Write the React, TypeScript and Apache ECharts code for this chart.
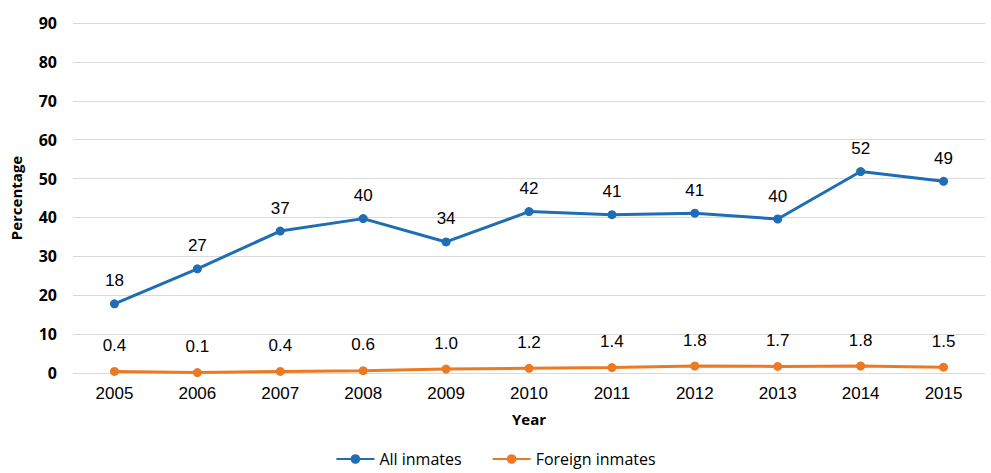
import React, { useEffect, useRef } from "react";
import * as echarts from "echarts";

const years = ["2005", "2006", "2007", "2008", "2009", "2010", "2011", "2012", "2013", "2014", "2015"];
const allInmates = [17.8, 26.8, 36.5, 39.7, 33.7, 41.5, 40.7, 41.1, 39.6, 51.8, 49.3];
const foreignInmates = [0.4, 0.1, 0.4, 0.6, 1.0, 1.2, 1.4, 1.8, 1.7, 1.8, 1.5];

export default function App() {
  const ref = useRef<HTMLDivElement>(null);
  useEffect(() => {
    if (!ref.current) return;
    const chart = echarts.init(ref.current, null, { renderer: "svg" });
    chart.setOption({
      animation: false,
      backgroundColor: "#ffffff",
      grid: { left: 68, right: 6, top: 23, bottom: 100, containLabel: false },
      legend: {
        top: 446,
        left: "center",
        itemWidth: 38,
        itemHeight: 12,
        itemGap: 30,
        textStyle: { fontFamily: "Open Sans", fontSize: 16, color: "#000" },
        data: ["All inmates", "Foreign inmates"],
      },
      xAxis: {
        type: "category",
        data: years,
        name: "Year",
        nameLocation: "middle",
        nameGap: 38,
        nameTextStyle: { fontFamily: "Open Sans", fontWeight: "bold", fontSize: 15, color: "#000" },
        axisLine: { show: false },
        axisTick: { show: false },
        axisLabel: { fontFamily: "Liberation Sans", fontSize: 17, color: "#000", margin: 12 },
      },
      yAxis: {
        type: "value",
        min: 0,
        max: 90,
        interval: 10,
        name: "Percentage",
        nameLocation: "middle",
        nameGap: 50,
        nameTextStyle: { fontFamily: "Open Sans", fontWeight: "bold", fontSize: 15, color: "#000" },
        axisLine: { show: false },
        axisTick: { show: false },
        splitLine: { lineStyle: { color: "#d9d9d9", width: 1 } },
        axisLabel: { fontFamily: "Open Sans", fontWeight: "bold", fontSize: 16, color: "#000", margin: 16 },
      },
      series: [
        {
          name: "All inmates",
          type: "line",
          data: allInmates,
          color: "#1f6db5",
          lineStyle: { width: 3 },
          symbol: "circle",
          symbolSize: 9,
          label: {
            show: true,
            position: "top",
            distance: 10,
            fontFamily: "Liberation Sans",
            fontSize: 17,
            color: "#000",
            formatter: (p: any) => Math.round(p.value).toString(),
          },
        },
        {
          name: "Foreign inmates",
          type: "line",
          data: foreignInmates,
          color: "#ec7a22",
          lineStyle: { width: 3 },
          symbol: "circle",
          symbolSize: 9,
          label: {
            show: true,
            position: "top",
            distance: 13,
            fontFamily: "Liberation Sans",
            fontSize: 17,
            color: "#000",
            formatter: (p: any) => Number(p.value).toFixed(1),
          },
        },
      ],
    });
    return () => chart.dispose();
  }, []);
  return (
    <div
      ref={ref}
      style={{ position: "fixed", left: 0, top: 0, width: 991, height: 473, background: "#fff" }}
    />
  );
}
